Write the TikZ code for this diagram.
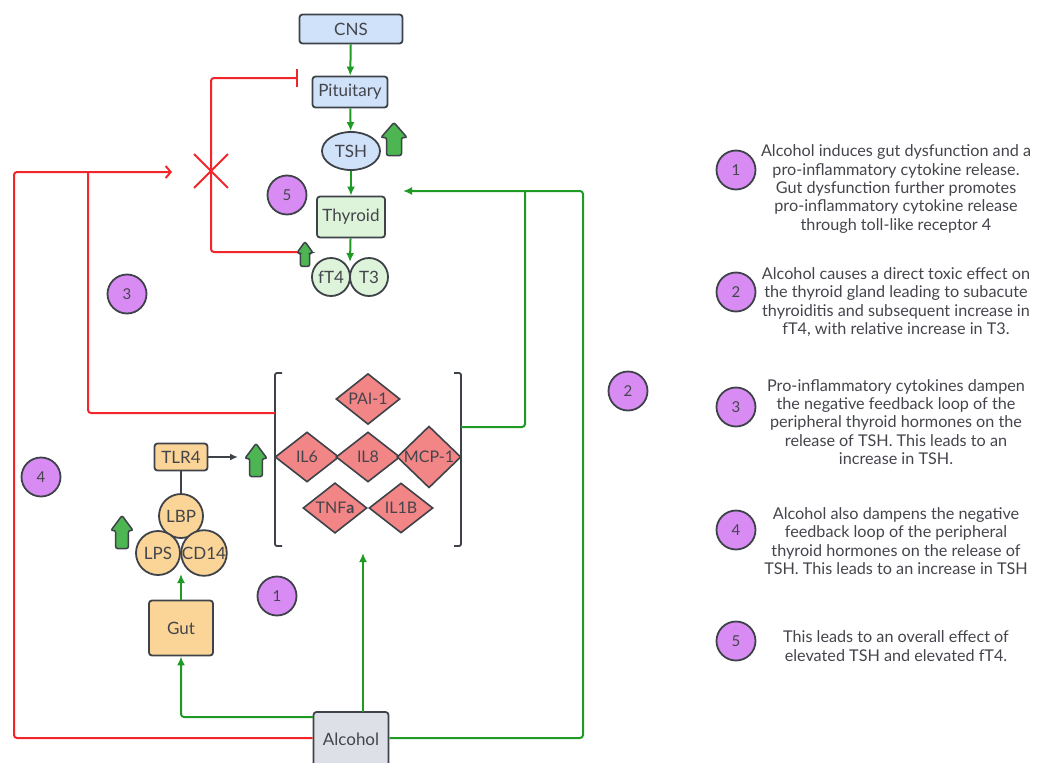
\documentclass[tikz,border=0pt]{standalone}
\usepackage{fontspec}
\setmainfont{Lato}
\usetikzlibrary{shapes.geometric,shapes.misc,arrows.meta}
\definecolor{edge}{HTML}{3E4249}
\definecolor{txt}{HTML}{44454C}
\definecolor{cblue}{HTML}{CFE2FA}
\definecolor{cgreen}{HTML}{DDF4DA}
\definecolor{corange}{HTML}{FBD597}
\definecolor{cred}{HTML}{F28585}
\definecolor{cgray}{HTML}{DEE0E8}
\definecolor{cviolet}{HTML}{D88CF3}
\definecolor{lgreen}{HTML}{1F9A24}
\definecolor{lred}{HTML}{F2262A}
\definecolor{upgreen}{HTML}{4DB552}
\tikzset{
	uparr/.pic={
		\draw[draw=edge,fill=upgreen,line width=1.5pt,rounded corners=2pt]
			(-7.5,16.5) -- (-7.5,-1.5) -- (-13,-1.5) -- (0,-16.5) -- (13,-1.5) -- (7.5,-1.5) -- (7.5,16.5) -- cycle;
	},
}
\begin{document}
\begin{tikzpicture}[x=1pt,y=-1pt,
	lbl/.style={text=txt,font=\fontsize{17}{19}\selectfont},
	box/.style={lbl,draw=edge,line width=1.8pt,rounded corners=3pt,inner sep=0pt},
	orb/.style={lbl,circle,draw=edge,line width=1.8pt,minimum size=38,inner sep=0pt},
	cyto/.style={lbl,diamond,draw=edge,fill=cred,line width=1.6pt,inner sep=0pt,
		minimum width=64,minimum height=50,font=\fontsize{16}{18}\selectfont},
	num/.style={circle,draw=edge,fill=cviolet,line width=1.8pt,minimum size=39,inner sep=0pt,
		text=txt,font=\fontsize{15}{17}\selectfont},
	note/.style={text=txt,align=center,font=\fontsize{16.2}{18.4}\selectfont},
	grn/.style={draw=lgreen,line width=2pt,rounded corners=3pt,-{Latex[length=9pt,width=8pt]}},
	redl/.style={draw=lred,line width=2pt,rounded corners=3pt},
	]
	\useasboundingbox (0,0) rectangle (1037,763);
	% thyroid axis
	\node[box,fill=cblue,minimum width=103,minimum height=29] (cns) at (351,29) {CNS};
	\node[box,fill=cblue,minimum width=75,minimum height=31] (pit) at (350,92) {Pituitary};
	\node[lbl,ellipse,draw=edge,fill=cblue,line width=1.8pt,minimum width=58,minimum height=38,inner sep=0pt]
		(tsh) at (351,151) {TSH};
	\node[box,fill=cgreen,minimum width=68,minimum height=41] (thy) at (351,217) {Thyroid};
	\node[orb,fill=cgreen] (ft4) at (331,277) {fT4};
	\node[orb,fill=cgreen] (t3) at (369,277) {T3};
	\coordinate (hormtop) at (350,262);
	\pic (tshup) at (394,139) {uparr};
	\pic[xscale=0.62,yscale=0.75] (ft4up) at (305,254) {uparr};
	\coordinate (ft4upL) at (297,252);
	\draw[grn] (cns) -- (pit);
	\draw[grn] (pit) -- (tsh);
	\draw[grn] (tsh) -- (thy);
	\draw[grn] (thy) -- (hormtop);
	% cytokines
	\node[cyto] (pai) at (368,399) {PAI-1};
	\node[cyto] (il6) at (307,457) {IL6};
	\node[cyto] (il8) at (368,457) {IL8};
	\node[cyto] (mcp) at (429,457) {MCP-1};
	\node[cyto] (tnf) at (335,508) {TNF\textbf{a}};
	\node[cyto] (il1) at (401,508) {IL1B};
	\draw[edge,line width=1.8pt,rounded corners=2pt] (282,373) -- (275,373) -- (275,546) -- (282,546);
	\draw[edge,line width=1.8pt,rounded corners=2pt] (454,373) -- (461,373) -- (461,546) -- (454,546);
	\coordinate (brL) at (275,413);
	\coordinate (brR) at (461,427);
	\coordinate (cytbot) at (363,553);
	% gut
	\node[box,fill=corange,minimum width=53,minimum height=27] (tlr) at (181,457) {TLR4};
	\node[orb,fill=corange,minimum size=44] (lbp) at (181,516) {LBP};
	\node[orb,fill=corange,minimum size=44] (lps) at (158,553) {LPS};
	\node[orb,fill=corange,minimum size=44] (cd14) at (204,553) {CD14};
	\pic[xscale=0.85] (tlrup) at (256,460) {uparr};
	\pic[xscale=0.85] (lpsup) at (122,532) {uparr};
	\node[box,fill=corange,minimum width=64,minimum height=55] (gut) at (181,628) {Gut};
	\coordinate (tlrtip) at (238,457);
	\coordinate (lpsjoin) at (181,574);
	\draw[edge,line width=1.6pt] (tlr) -- (lbp);
	\draw[edge,line width=1.6pt,-{Latex[length=8pt,width=7pt]}] (tlr) -- (tlrtip);
	\draw[grn] (gut) -- (lpsjoin);
	% alcohol
	\node[box,fill=cgray,minimum width=75,minimum height=54] (alc) at (351,739) {Alcohol};
	\coordinate (alcgut) at (313,717);
	\coordinate (alcup) at (363,712);
	\coordinate (thyin) at (403,191);
	\draw[grn] (alcgut) -| (gut);
	\draw[grn] (alcup) -- (cytbot);
	\draw[grn] (alc.east |- 0,738) -| (583,191) -- (thyin);
	\draw[grn,-] (brR) -| (525,191);
	% feedback
	\node[cross out,draw=lred,line width=1.8pt,minimum size=32] (xmark) at (211,171) {};
	\coordinate (pitbar) at (298,78);
	\coordinate (redtip) at (172,172);
	\draw[redl,-{Bar[width=18pt]}] (ft4upL) -| (xmark.center) |- (pitbar);
	\draw[redl,-{Straight Barb[length=5pt,width=12pt]}] (alc.west |- 0,738) -| (14,172) -- (redtip);
	\draw[redl] (brL) -| (88,172);
	% numbers
	\foreach \n/\x/\y in {1/277/596,2/628/391,3/127/294,4/41/477,5/287/195}
		\node[num] (n\n) at (\x,\y) {\n};
	\foreach \n/\y in {1/170,2/292,3/407,4/530,5/641}
		\node[num] (k\n) at (736,\y) {\n};
	\node[note] (t1) at (896,189) {Alcohol induces gut dysfunction and a\\pro-inflammatory cytokine release.\\Gut dysfunction further promotes\\pro-inflammatory cytokine release\\through toll-like receptor 4};
	\node[note] (t2) at (896,302) {Alcohol causes a direct toxic effect on\\the thyroid gland leading to subacute\\thyroiditis and subsequent increase in\\fT4, with relative increase in T3.};
	\node[note] (t3) at (896,422) {Pro-inflammatory cytokines dampen\\the negative feedback loop of the\\peripheral thyroid hormones on the\\release of TSH. This leads to an\\increase in TSH.};
	\node[note] (t4) at (896,541) {Alcohol also dampens the negative\\feedback loop of the peripheral\\thyroid hormones on the release of\\TSH. This leads to an increase in TSH};
	\node[note] (t5) at (896,646) {This leads to an overall effect of\\elevated TSH and elevated fT4.};
\end{tikzpicture}
\end{document}
